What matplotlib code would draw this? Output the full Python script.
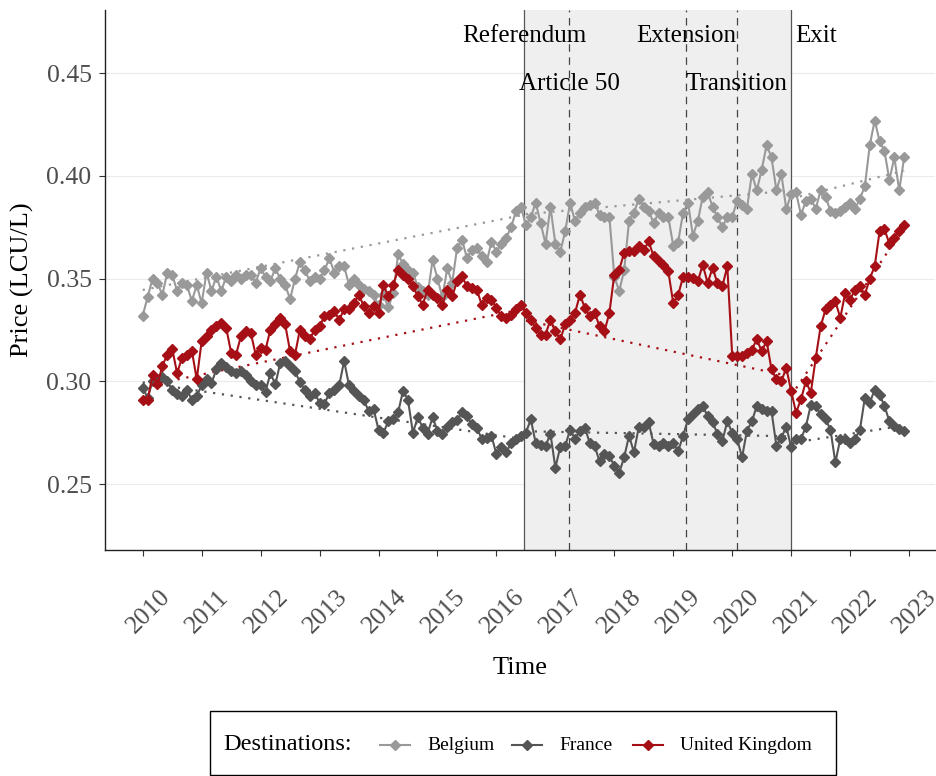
import numpy as np
import matplotlib
matplotlib.use("Agg")
import matplotlib.pyplot as plt
from matplotlib.lines import Line2D
from matplotlib.patches import Rectangle
from matplotlib.transforms import ScaledTranslation

plt.rcParams['font.family'] = ['Liberation Serif', 'DejaVu Serif']

# ---- monthly prices, Jan 2010 - Dec 2022 (LCU per litre) ----
start_year = 2010

belgium = [
    0.332, 0.341, 0.350, 0.348, 0.342, 0.353, 0.352, 0.344, 0.348, 0.347, 0.339, 0.347,
    0.338, 0.353, 0.344, 0.351, 0.344, 0.351, 0.349, 0.352, 0.350, 0.352, 0.352, 0.348,
    0.355, 0.351, 0.349, 0.355, 0.350, 0.347, 0.340, 0.350, 0.358, 0.354, 0.349, 0.351,
    0.350, 0.354, 0.360, 0.353, 0.356, 0.356, 0.347, 0.350, 0.347, 0.345, 0.344, 0.342,
    0.337, 0.342, 0.336, 0.343, 0.362, 0.357, 0.354, 0.353, 0.346, 0.344, 0.342, 0.359,
    0.350, 0.341, 0.355, 0.348, 0.365, 0.369, 0.360, 0.364, 0.365, 0.361, 0.358, 0.368,
    0.363, 0.367, 0.370, 0.375, 0.383, 0.385, 0.376, 0.380, 0.387, 0.377, 0.367, 0.385,
    0.367, 0.363, 0.373, 0.387, 0.378, 0.382, 0.385, 0.386, 0.387, 0.381, 0.380, 0.380,
    0.351, 0.344, 0.354, 0.378, 0.382, 0.389, 0.385, 0.383, 0.377, 0.382, 0.380, 0.380,
    0.366, 0.368, 0.382, 0.387, 0.371, 0.378, 0.390, 0.392, 0.385, 0.380, 0.375, 0.380,
    0.380, 0.388, 0.386, 0.384, 0.401, 0.393, 0.403, 0.415, 0.409, 0.393, 0.401, 0.384,
    0.391, 0.392, 0.381, 0.388, 0.389, 0.384, 0.393, 0.390, 0.383, 0.382, 0.383, 0.385,
    0.387, 0.384, 0.389, 0.395, 0.415, 0.427, 0.417, 0.412, 0.398, 0.409, 0.393, 0.409,
]

france = [
    0.297, 0.292, 0.300, 0.301, 0.302, 0.300, 0.296, 0.294, 0.293, 0.296, 0.291, 0.293,
    0.298, 0.301, 0.299, 0.306, 0.309, 0.307, 0.305, 0.304, 0.305, 0.303, 0.300, 0.298,
    0.298, 0.295, 0.304, 0.2985, 0.309, 0.310, 0.3075, 0.305, 0.2995, 0.296, 0.293, 0.2945,
    0.2895, 0.289, 0.2945, 0.296, 0.298, 0.310, 0.298, 0.2955, 0.293, 0.291, 0.2855, 0.2865,
    0.2765, 0.275, 0.2805, 0.2815, 0.285, 0.2955, 0.291, 0.275, 0.2825, 0.2775, 0.2745, 0.2825,
    0.276, 0.2745, 0.278, 0.280, 0.281, 0.285, 0.283, 0.279, 0.2775, 0.272, 0.2725, 0.2735,
    0.2645, 0.268, 0.2655, 0.270, 0.272, 0.2735, 0.275, 0.2815, 0.270, 0.269, 0.2685, 0.2745,
    0.258, 0.268, 0.2685, 0.2765, 0.272, 0.276, 0.2775, 0.270, 0.2685, 0.261, 0.2645, 0.2635,
    0.259, 0.2555, 0.263, 0.2735, 0.2655, 0.278, 0.278, 0.280, 0.2695, 0.2685, 0.270, 0.2685,
    0.270, 0.266, 0.2735, 0.2815, 0.284, 0.2865, 0.288, 0.283, 0.280, 0.2745, 0.271, 0.2805,
    0.275, 0.272, 0.263, 0.276, 0.2805, 0.288, 0.2865, 0.2855, 0.2855, 0.2685, 0.2725, 0.278,
    0.268, 0.272, 0.272, 0.278, 0.2885, 0.288, 0.284, 0.2815, 0.2765, 0.2605, 0.272, 0.272,
    0.270, 0.272, 0.2765, 0.292, 0.2895, 0.296, 0.2935, 0.288, 0.2805, 0.2785, 0.277, 0.276,
]

united_kingdom = [
    0.291, 0.291, 0.303, 0.2985, 0.3075, 0.313, 0.316, 0.304, 0.3115, 0.313, 0.315, 0.301,
    0.3195, 0.322, 0.325, 0.327, 0.3285, 0.326, 0.314, 0.313, 0.322, 0.3245, 0.3236, 0.313,
    0.3163, 0.3155, 0.3252, 0.328, 0.331, 0.3277, 0.3147, 0.313, 0.3252, 0.322, 0.3204, 0.3252,
    0.3268, 0.3317, 0.3325, 0.3341, 0.3301, 0.335, 0.335, 0.3382, 0.3422, 0.3366, 0.3333, 0.3366,
    0.3333, 0.3471, 0.3414, 0.3471, 0.3544, 0.352, 0.350, 0.3463, 0.3414, 0.3374, 0.3447, 0.3422,
    0.3406, 0.3374, 0.3447, 0.3414, 0.3487, 0.3511, 0.3463, 0.3455, 0.3447, 0.3374, 0.3406, 0.3398,
    0.3358, 0.3317, 0.3309, 0.3325, 0.335, 0.3374, 0.3333, 0.330, 0.3261, 0.3225, 0.3228, 0.330,
    0.3244, 0.3204, 0.3277, 0.330, 0.3333, 0.3422, 0.3358, 0.3317, 0.3333, 0.3268, 0.3244, 0.3333,
    0.352, 0.3544, 0.3625, 0.3633, 0.3633, 0.3657, 0.364, 0.3681, 0.3608, 0.3584, 0.3568, 0.3535,
    0.338, 0.342, 0.351, 0.351, 0.3503, 0.3487, 0.3568, 0.3479, 0.3552, 0.3479, 0.3463, 0.356,
    0.3125, 0.3125, 0.3125, 0.314, 0.3155, 0.3204, 0.3147, 0.3196, 0.3058, 0.301, 0.300, 0.3066,
    0.2953, 0.2848, 0.2913, 0.300, 0.2945, 0.3113, 0.3268, 0.335, 0.3374, 0.339, 0.3309, 0.343,
    0.3398, 0.3447, 0.3463, 0.3422, 0.350, 0.356, 0.373, 0.374, 0.367, 0.370, 0.373, 0.376,
]

destinations = ["Belgium", "France", "United Kingdom"]
series = [belgium, france, united_kingdom]
colors = ["#999999", "#555555", "#a50f15"]

# period trends: (start, end) in decimal years and fitted values at both ends
trend_periods = [(2010.0, 2016.417), (2016.5, 2020.917), (2021.0, 2022.917)]
belgium_trend = [(0.3445, 0.3808), (0.3814, 0.3927), (0.3890, 0.4025)]
france_trend = [(0.2995, 0.2720), (0.2757, 0.2733), (0.2700, 0.2785)]
united_kingdom_trend = [(0.2975, 0.3350), (0.3296, 0.3029), (0.2930, 0.3750)]
trends = [belgium_trend, france_trend, united_kingdom_trend]

# Brexit milestones
events = ["Referendum", "Article 50", "Extension", "Transition", "Exit"]
event_dates = [2016.475, 2017.238, 2019.216, 2020.075, 2021.0]
event_rows = [1, 2, 1, 2, 1]
row_y = {1: 0.4654, 2: 0.4419}

year_ticks = list(range(2010, 2024))
y_ticks = [0.25, 0.30, 0.35, 0.40, 0.45]

# ---- figure ----
W, H = 936, 776
fig = plt.figure(figsize=(W / 100, H / 100), dpi=100)
fig.patch.set_facecolor("white")
ax = fig.add_axes([104.5 / W, 1 - 550 / H, (935 - 104.5) / W, (550 - 10) / H])

t = start_year + np.arange(len(belgium)) / 12.0

ax.set_xlim(2009.352, 2023.44)
ax.set_ylim(0.2179, 0.4808)

ax.set_axisbelow(True)
ax.yaxis.grid(True, color="#ebebeb", lw=0.8)
ax.xaxis.grid(False)

# shaded Brexit window and milestone lines
ax.axvspan(event_dates[0], event_dates[-1], color="#efefef", zorder=0.6, lw=0)
for name, d in zip(events, event_dates):
    if name in ("Referendum", "Exit"):
        ax.axvline(d, color="#555555", lw=0.9, zorder=0.7)
    else:
        ax.axvline(d, color="#444444", lw=0.9, ls=(0, (6, 4.5)), zorder=0.7)

for name, d, r in zip(events, event_dates, event_rows):
    if name == "Exit":
        ax.annotate(name, (d, row_y[r]), xytext=(3, 0), textcoords="offset points",
                    ha="left", va="baseline", fontsize=18, color="black", zorder=3)
    else:
        ax.text(d, row_y[r], name, ha="center", va="baseline", fontsize=18,
                color="black", zorder=3)

# trend lines
for trend, col in zip(trends, colors):
    for (a, b), (v0, v1) in zip(trend_periods, trend):
        ax.plot([a, b], [v0, v1], color=col, lw=1.6, ls=(0, (1, 3)),
                dash_capstyle="butt", zorder=1.8)

# monthly price series
for vals, col in zip(series, colors):
    ax.plot(t, vals, color=col, lw=1.5, marker="D", ms=5.6, mec=col, mfc=col,
            zorder=2)

# axes styling
for s in ("top", "right"):
    ax.spines[s].set_visible(False)
for s in ("left", "bottom"):
    ax.spines[s].set_color("#222222")
    ax.spines[s].set_linewidth(1.0)

ax.set_yticks(y_ticks)
ax.set_yticklabels([f"{v:.2f}" for v in y_ticks])
ax.set_xticks(year_ticks)
ax.set_xticklabels([str(y) for y in year_ticks])
ax.tick_params(axis="y", length=4.3, width=0.8, color="#333333", pad=5,
               labelsize=18.5, labelcolor="#4d4d4d")
ax.tick_params(axis="x", length=4.3, width=0.8, color="#333333", pad=40,
               labelsize=18.5, labelcolor="#4d4d4d")
for tick in ax.xaxis.get_major_ticks():
    lab = tick.label1
    lab.set_rotation(45)
    lab.set_ha("center")
    lab.set_va("center")
    lab.set_transform(lab.get_transform() +
                      ScaledTranslation(6 / 100, 0, fig.dpi_scale_trans))

ax.set_ylabel("Price (LCU/L)", fontsize=19, color="black", labelpad=9)
ax.set_xlabel("Time", fontsize=19, color="black", labelpad=14)

# legend box
lax = fig.add_axes([0, 0, 1, 1], facecolor="none")
lax.set_xlim(0, W)
lax.set_ylim(H, 0)
lax.axis("off")
lax.add_patch(Rectangle((210, 711), 626, 64, fill=False, ec="black", lw=1.0))
lax.text(223.5, 745, "Destinations:", fontsize=17.5, ha="left", va="center",
         color="black")
key_x = [380, 512, 633]
for name, col, kx in zip(destinations, colors, key_x):
    lax.add_line(Line2D([kx, kx + 30], [745, 745], color=col, lw=1.5))
    lax.add_line(Line2D([kx + 15], [745], color=col, marker="D", ms=5.2, lw=0))
    lax.text(kx + 47, 745, name, fontsize=14, ha="left", va="center", color="black")

fig.savefig("out.png", dpi=100)
